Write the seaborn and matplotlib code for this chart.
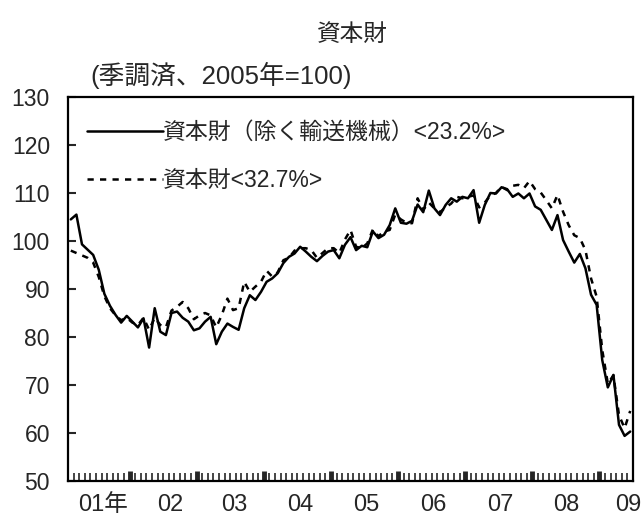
# -*- coding: utf-8 -*-
import numpy as np
import pandas as pd
import matplotlib
matplotlib.use('Agg')
import seaborn as sns
from matplotlib import pyplot as plt

# 月次指数（2001年2月～2009年6月、101か月）
solid = [104.5, 105.5, 99.3, 98.2, 97.1, 94.0, 89.0, 86.5, 84.6, 83.0,
         84.4, 83.2, 82.0, 83.9, 77.8, 86.0, 81.1, 80.4, 85.0, 85.3,
         84.0, 83.2, 81.4, 81.8, 83.2, 84.2, 78.5, 81.1, 82.8, 82.1,
         81.5, 86.0, 88.7, 87.7, 89.4, 91.5, 92.2, 93.3, 95.4, 96.7,
         97.4, 98.8, 97.8, 96.7, 95.8, 96.9, 97.8, 98.1, 96.4, 99.2,
         100.8, 98.1, 99.0, 98.7, 102.0, 100.6, 101.3, 103.3, 106.8, 103.8,
         103.6, 104.2, 107.6, 106.0, 110.5, 106.8, 105.4, 107.5, 108.9, 108.2,
         109.2, 108.9, 110.6, 103.8, 107.5, 110.0, 109.9, 111.2, 110.8, 109.2,
         109.9, 108.9, 109.9, 107.2, 106.5, 104.4, 102.3, 105.4, 100.2, 97.8,
         95.5, 97.3, 94.3, 88.8, 86.7, 75.2, 69.5, 72.1, 61.7, 59.4,
         60.3]
dotted = [98.0, 97.5, 97.0, 96.5, 95.5, 92.5, 88.5, 86.0, 84.5, 83.5,
          84.0, 83.0, 82.5, 84.0, 81.5, 84.0, 82.5, 82.0, 85.5, 86.3,
          87.3, 86.0, 83.7, 84.5, 85.0, 84.5, 82.0, 84.6, 88.0, 85.6,
          86.0, 91.5, 89.4, 90.5, 91.5, 93.8, 92.6, 93.5, 96.0, 96.5,
          98.0, 98.5, 98.5, 98.1, 96.5, 97.5, 98.5, 98.5, 97.5, 100.3,
          102.3, 98.8, 98.5, 99.5, 102.4, 101.0, 102.0, 102.3, 105.5, 104.5,
          103.8, 103.7, 108.9, 106.5, 108.0, 106.8, 106.0, 107.0, 107.8, 109.2,
          108.9, 109.2, 109.5, 107.0, 108.0, 109.5, 110.0, 111.3, 110.6, 111.5,
          111.7, 111.0, 112.5, 110.8, 110.1, 108.5, 106.8, 109.6, 106.1, 103.3,
          101.2, 100.6, 98.1, 92.2, 88.4, 77.3, 70.3, 72.0, 63.7, 61.0,
          64.6]

solid_name = '資本財（除く輸送機械）<23.2%>'
dotted_name = '資本財<32.7%>'
year_labels = ['01年', '02', '03', '04', '05', '06', '07', '08', '09']
year_label_pos = [5.8, 17.8, 29.3, 41.0, 52.9, 64.8, 76.7, 88.5, 99.6]
year_bounds = [10.5, 22.5, 34.5, 46.5, 58.5, 70.5, 82.5, 94.5]

sns.set_style('ticks')
plt.rcParams['font.family'] = ['Liberation Sans', 'Noto Sans CJK JP', 'DejaVu Sans']

df = pd.DataFrame({'m': np.arange(len(solid)), 'solid': solid, 'dotted': dotted})

fig = plt.figure(figsize=(6.42, 5.24), dpi=100)
ax = fig.add_axes([68/642, 1-481/524, 565/642, 384/524])

sns.lineplot(data=df, x='m', y='solid', ax=ax, color='black', lw=1.8,
             label=solid_name)
sns.lineplot(data=df, x='m', y='dotted', ax=ax, color='black', lw=1.8,
             linestyle=(0, (2.5, 2.5)), label=dotted_name)

ax.set_xlim(-0.5, len(solid)-0.5)
ax.set_ylim(50, 130)
ax.set_xlabel('')
ax.set_ylabel('')
ax.set_yticks(range(50, 131, 10))
ax.tick_params(axis='y', direction='in', length=6, width=1.5, labelsize=16.5, pad=13)

ax.set_xticks(year_bounds)
ax.set_xticklabels([])
ax.set_xticks(np.arange(-0.5, len(solid), 1), minor=True)
ax.tick_params(axis='x', which='major', direction='in', length=7, width=3.5)
ax.tick_params(axis='x', which='minor', direction='in', length=6, width=1.2)
for lab, p in zip(year_labels, year_label_pos):
    ax.text(p, -0.063, lab, transform=ax.get_xaxis_transform(),
            ha='center', va='center', fontsize=17)

for s in ax.spines.values():
    s.set_visible(True)
    s.set_linewidth(1.6)
    s.set_color('black')

ax.legend(loc='upper left', bbox_to_anchor=(-0.009, 1.0), frameon=False,
          fontsize=16.5, handlelength=3.3, handletextpad=0.0,
          labelspacing=1.1, borderaxespad=0.65)

fig.text(352/642, 1-35/524, '資本財', ha='center', va='center', fontsize=17)
fig.text(90/642, 1-75/524, '(季調済、2005年=100)', ha='left', va='center', fontsize=18.5)

plt.savefig('out.png', dpi=100)
